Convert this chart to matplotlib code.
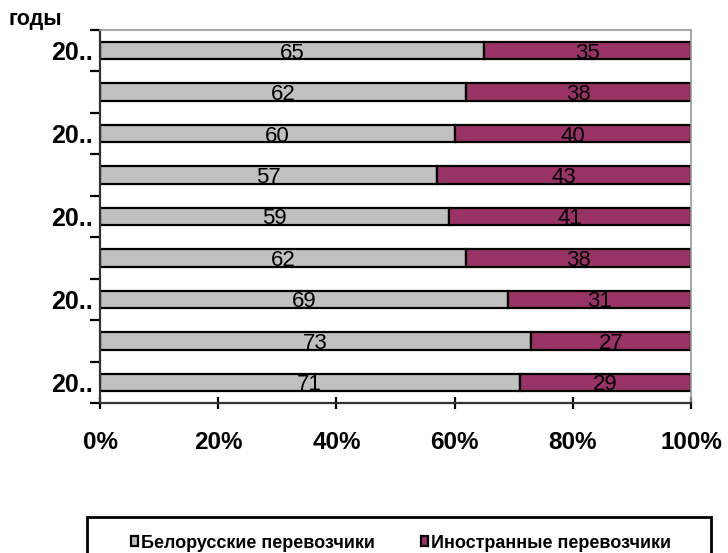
import numpy as np
import matplotlib.pyplot as plt
from matplotlib.patches import Rectangle

# shares of cargo transport by carrier, percent, top row first
year_labels = ["20..", "", "20..", "", "20..", "", "20..", "", "20.."]
belarus = [65, 62, 60, 57, 59, 62, 69, 73, 71]
foreign = [35, 38, 40, 43, 41, 38, 31, 27, 29]
x_ticks = [0, 20, 40, 60, 80, 100]

plt.rcParams['font.family'] = ['Liberation Sans', 'DejaVu Sans']

W, H = 728, 553
fig = plt.figure(figsize=(W / 100, H / 100), dpi=100)
ax = fig.add_axes([100 / W, 1 - 403 / H, 591 / W, 373 / H])

y = np.arange(len(belarus))
h = 0.42
b1 = ax.barh(y, belarus, height=h, color='#C0C0C0', edgecolor='black', linewidth=1.6,
             label='Белорусские перевозчики')
b2 = ax.barh(y, foreign, left=belarus, height=h, color='#993366', edgecolor='black',
             linewidth=1.6, label='Иностранные перевозчики')

for yi, a, b in zip(y, belarus, foreign):
    ax.text(a / 2, yi, str(a), ha='center', va='center_baseline', fontsize=16)
    ax.text(a + b / 2, yi, str(b), ha='center', va='center_baseline', fontsize=16)

ax.set_xlim(0, 100)
ax.set_ylim(len(belarus) - 0.5, -0.5)

# category boundaries carry the ticks, labels sit at bar centres
ax.set_yticks(np.arange(len(belarus) + 1) - 0.5)
ax.set_yticklabels([])
ax.set_yticks(y, minor=True)
ax.set_yticklabels(year_labels, minor=True, fontsize=18, fontweight='bold')
ax.tick_params(axis='y', which='minor', length=0, pad=5)
ax.tick_params(axis='y', which='major', length=7, width=1.6, direction='out')

ax.set_xticks(x_ticks)
ax.set_xticklabels([f"{t}%" for t in x_ticks], fontsize=17.5, fontweight='bold')
ax.tick_params(axis='x', length=8, width=1.6, direction='inout', pad=16)

for side in ['left', 'bottom']:
    ax.spines[side].set_linewidth(1.6)
    ax.spines[side].set_color('#333333')
for side in ['top', 'right']:
    ax.spines[side].set_color('#9a9a9a')
    ax.spines[side].set_linewidth(1.2)

fig.text(8 / W, 1 - 19 / H, 'годы', fontsize=15.5, fontweight='bold', va='center')

# legend frame runs off the bottom edge
fig.patches.append(Rectangle((87 / W, 1 - 580 / H), 624 / W, 63 / H,
                             transform=fig.transFigure, fill=False,
                             edgecolor='black', linewidth=2))

for handle, x0 in [(b1, 131), (b2, 421)]:
    fig.legend(handles=[handle], loc='center left',
               bbox_to_anchor=(x0 / W, 1 - 543 / H), bbox_transform=fig.transFigure,
               frameon=False, borderpad=0, borderaxespad=0,
               handlelength=0.4, handleheight=0.4, handletextpad=0.15,
               prop={'weight': 'bold', 'size': 13})

fig.savefig('out.png', dpi=100)
